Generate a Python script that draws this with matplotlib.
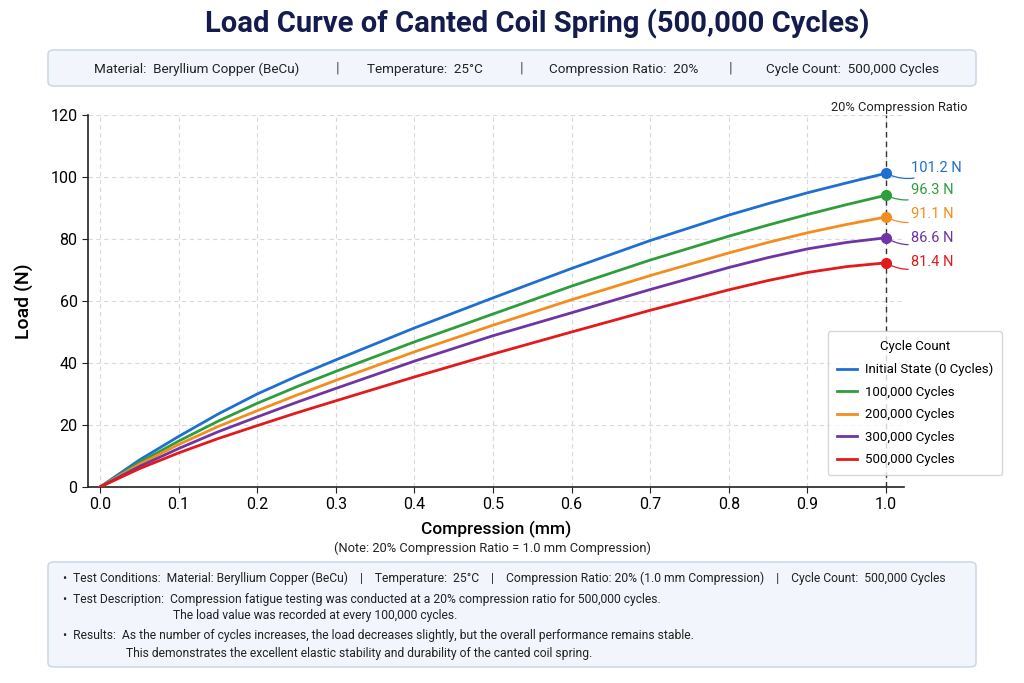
import matplotlib
matplotlib.use("Agg")
import matplotlib.pyplot as plt
from matplotlib.patches import FancyBboxPatch

plt.rcParams["font.family"] = ["Roboto", "DejaVu Sans"]

# ── data ─────────────────────────────────────────────────────────────────────
compression = [0.0, 0.05, 0.1, 0.15, 0.2, 0.25, 0.3, 0.4, 0.5, 0.6, 0.7, 0.8, 0.85, 0.9, 0.95, 1.0]
load_0k = [0, 8.7, 16.3, 23.5, 30.0, 35.7, 41.0, 51.3, 61.0, 70.5, 79.5, 87.7, 91.4, 94.9, 98.1, 101.2]
load_100k = [0, 7.9, 14.8, 21.2, 27.0, 32.3, 37.3, 46.8, 55.8, 64.8, 73.2, 80.9, 84.5, 87.9, 91.1, 94.1]
load_200k = [0, 7.3, 13.7, 19.5, 24.6, 29.6, 34.4, 43.6, 52.2, 60.4, 68.2, 75.5, 78.9, 82.0, 84.7, 87.1]
load_300k = [0, 6.6, 12.4, 17.8, 22.6, 27.3, 31.8, 40.6, 48.8, 56.2, 63.7, 70.8, 74.0, 76.8, 78.9, 80.4]
load_500k = [0, 5.9, 11.0, 15.6, 19.8, 23.9, 27.8, 35.5, 42.9, 50.0, 57.0, 63.6, 66.6, 69.2, 71.1, 72.3]

series_names = ["Initial State (0 Cycles)", "100,000 Cycles", "200,000 Cycles",
                "300,000 Cycles", "500,000 Cycles"]
end_labels = ["101.2 N", "96.3 N", "91.1 N", "86.6 N", "81.4 N"]

COLORS = ["#1f6fd0", "#2e9e3c", "#f38d1e", "#6e35a3", "#e3191c"]
LABEL_DY = [5, 5, 3, 0, 1]  # pixel nudges of the end labels

NAVY = "#141b4d"
BOX_FACE = "#f2f6fc"
BOX_EDGE = "#c5d3e6"

fig = plt.figure(figsize=(10.24, 6.83), dpi=100)
ax = fig.add_axes([88 / 1024, 1 - 487 / 683, (904 - 88) / 1024, (487 - 115) / 683])

# ── title + header box ──────────────────────────────────────────────────────
fig.text(537 / 1024, 1 - 24 / 683, "Load Curve of Canted Coil Spring (500,000 Cycles)",
         ha="center", va="center", fontsize=21, fontweight="bold", color=NAVY)

fig.add_artist(FancyBboxPatch((48 / 1024, 1 - 86 / 683), 928 / 1024, 36 / 683,
                              boxstyle="round,pad=0,rounding_size=0.006",
                              transform=fig.transFigure, facecolor=BOX_FACE,
                              edgecolor=BOX_EDGE, linewidth=1))
hy = 1 - 69 / 683
for x, s in [(197, "Material:  Beryllium Copper (BeCu)"), (425, "Temperature:  25°C"),
             (624, "Compression Ratio:  20%"), (853, "Cycle Count:  500,000 Cycles")]:
    fig.text(x / 1024, hy, s, ha="center", va="center", fontsize=9.7, color="#222222")
for x in [338, 522, 731]:
    fig.text(x / 1024, hy, "|", ha="center", va="center", fontsize=11, color="#555555")

# ── curves ──────────────────────────────────────────────────────────────────
all_loads = [load_0k, load_100k, load_200k, load_300k, load_500k]
for loads, name, color, lab, dy in zip(all_loads, series_names, COLORS, end_labels, LABEL_DY):
    ax.plot(compression, loads, color=color, linewidth=2.0, label=name, zorder=3)
    ax.plot(compression[-1], loads[-1], "o", color=color, markersize=7, zorder=4)
    ax.annotate(lab, xy=(compression[-1], loads[-1]), xytext=(25, dy),
                textcoords="offset pixels", ha="left", va="center",
                fontsize=10.5, color=color,
                arrowprops=dict(arrowstyle="-", color=color, lw=0.9,
                                connectionstyle="arc3,rad=-0.3",
                                shrinkA=0, shrinkB=3))

ax.axvline(1.0, color="#333333", linestyle=(0, (4, 3)), linewidth=1, zorder=2)
fig.text(899 / 1024, 1 - 107 / 683, "20% Compression Ratio", ha="center",
         va="center", fontsize=9.3, color="#222222")

ax.set_xlim(-0.0153, 1.023)
ax.set_ylim(0, 120)
ax.set_xticks([i / 10 for i in range(11)])
ax.set_yticks(range(0, 121, 20))
ax.tick_params(labelsize=11.5, length=4, color="#222222")
ax.grid(True, linestyle=(0, (4, 3)), color="#d9d9d9", linewidth=0.8)
ax.set_axisbelow(True)
for side in ["top", "right"]:
    ax.spines[side].set_visible(False)
for side in ["left", "bottom"]:
    ax.spines[side].set_color("#222222")
    ax.spines[side].set_linewidth(1.2)

ax.set_ylabel("Load (N)", fontsize=14, fontweight="medium", labelpad=12)
ax.set_xlabel("Compression (mm)", fontsize=12.5, fontweight="medium", labelpad=6)
fig.text(493 / 1024, 1 - 548 / 683, "(Note: 20% Compression Ratio = 1.0 mm Compression)",
         ha="center", va="center", fontsize=9.3, color="#222222")

leg = ax.legend(title="Cycle Count", loc="upper right",
                bbox_to_anchor=(1002 / 1024, 1 - 331 / 683),
                bbox_transform=fig.transFigure, borderaxespad=0,
                fontsize=9.5, title_fontsize=9.5,
                frameon=True, fancybox=True, edgecolor="#cccccc",
                handlelength=1.5, handletextpad=0.6, labelspacing=0.72, borderpad=0.7)
leg.get_frame().set_linewidth(1)

# ── bottom notes box ────────────────────────────────────────────────────────
fig.add_artist(FancyBboxPatch((48 / 1024, 1 - 667 / 683), 928 / 1024, 105 / 683,
                              boxstyle="round,pad=0,rounding_size=0.006",
                              transform=fig.transFigure, facecolor=BOX_FACE,
                              edgecolor=BOX_EDGE, linewidth=1))
notes = [
    (63, 578, "•  Test Conditions:  Material: Beryllium Copper (BeCu)    |    Temperature:  25°C    |    "
              "Compression Ratio: 20% (1.0 mm Compression)    |    Cycle Count:  500,000 Cycles"),
    (63, 599, "•  Test Description:  Compression fatigue testing was conducted at a 20% "
              "compression ratio for 500,000 cycles."),
    (173, 616, "The load value was recorded at every 100,000 cycles."),
    (63, 636, "•  Results:  As the number of cycles increases, the load decreases slightly, "
              "but the overall performance remains stable."),
    (126, 653, "This demonstrates the excellent elastic stability and durability of the "
               "canted coil spring."),
]
for x, y, s in notes:
    fig.text(x / 1024, 1 - y / 683, s, ha="left", va="center", fontsize=8.75,
             color="#222222")

fig.savefig("out.png", dpi=100)
